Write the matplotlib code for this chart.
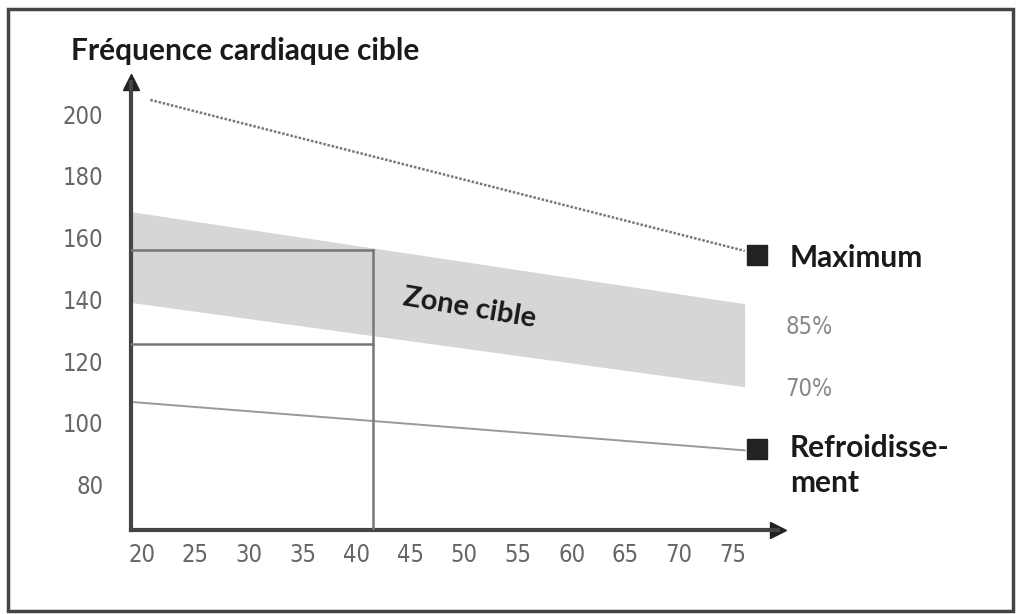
import matplotlib.pyplot as plt
from matplotlib.patches import Rectangle

# heart rate by age
ages_band = [19.0, 76.1]
band_top = [168.4, 138.6]     # 85 %
band_bottom = [139.0, 111.7]  # 70 %

max_ages = [20.8, 76.1]
max_hr = [204.6, 155.7]

cool_ages = [19.3, 76.1]
cool_hr = [106.7, 91.1]

marker_ages = [77.2, 77.2]
marker_hr = [154.4, 91.4]

# example box at age ~41
box_age = 41.5
box_hi = 156.1
box_lo = 125.4

xticks = [20, 25, 30, 35, 40, 45, 50, 55, 60, 65, 70, 75]
yticks = [80, 100, 120, 140, 160, 180, 200]

W, H = 1016, 614
fig = plt.figure(figsize=(W / 100, H / 100), dpi=100)
fig.patch.set_facecolor('white')

# frame around the whole picture
fig.patches.append(Rectangle((8 / W, 3 / H), 1005 / W, 602 / H, transform=fig.transFigure,
                             fill=False, edgecolor='#444444', linewidth=2.5))

ax = fig.add_axes([131 / W, 1 - 530 / H, (778 - 131) / W, (530 - 82) / H])
ax.set_xlim(19, 79.2)
ax.set_ylim(65.3, 210.4)

ax.fill_between(ages_band, band_top, band_bottom, color='#d6d6d6', lw=0, zorder=1)
ax.plot(max_ages, max_hr, color='#777777', lw=1.8, ls=(0, (1.0, 0.7)), zorder=2)
ax.plot(cool_ages, cool_hr, color='#999999', lw=1.4, zorder=2)
ax.plot(marker_ages, marker_hr, ls='none', marker='s', ms=14, color='#222222',
        clip_on=False, zorder=5)

# box lines
ax.plot([19, box_age], [box_hi, box_hi], color='#777777', lw=1.8, zorder=3)
ax.plot([19, box_age], [box_lo, box_lo], color='#777777', lw=1.8, zorder=3)
ax.plot([box_age, box_age], [box_hi, 65.3], color='#777777', lw=1.8, zorder=3)

# axes with arrows
for s in ['top', 'right']:
    ax.spines[s].set_visible(False)
for s in ['left', 'bottom']:
    ax.spines[s].set_color('#444444')
    ax.spines[s].set_linewidth(3)
ax.plot(1, 0, '>', color='#222222', ms=11, transform=ax.transAxes, clip_on=False)
ax.plot(0, 1, '^', color='#222222', ms=11, transform=ax.transAxes, clip_on=False)

tick_font = dict(family='DejaVu Sans', stretch='condensed', fontsize=17, color='#666666')
ax.set_xticks(xticks)
ax.set_xticklabels([str(t) for t in xticks], **tick_font)
ax.set_yticks(yticks)
ax.set_yticklabels([str(t) for t in yticks], **tick_font)
ax.tick_params(axis='x', length=0, pad=9)
ax.tick_params(axis='y', length=0, pad=20)

bold = dict(family=['Lato', 'DejaVu Sans'], fontweight='bold', color='#1a1a1a')
fig.text(71 / W, 1 - 51 / H, 'Fréquence cardiaque cible', ha='left', va='center',
         fontsize=21.5, **bold)

ax.annotate('Maximum', (marker_ages[0], marker_hr[0]), xytext=(24, -2),
            textcoords='offset points', ha='left', va='center', fontsize=21.5,
            annotation_clip=False, **bold)
ax.annotate('Refroidisse-\nment', (marker_ages[1], marker_hr[1]), xytext=(24, 11),
            textcoords='offset points', ha='left', va='top', fontsize=21.5,
            linespacing=1.32, annotation_clip=False, **bold)
ax.text(79.9, 131.2, '85%', ha='left', va='center', clip_on=False,
        **dict(tick_font, color='#888888'))
ax.text(79.9, 111.0, '70%', ha='left', va='center', clip_on=False,
        **dict(tick_font, color='#888888'))

ax.text(50.5, 137.2, 'Zone cible', ha='center', va='center', rotation=-9.5,
        fontsize=21, **bold)

fig.savefig('out.png', dpi=100)
